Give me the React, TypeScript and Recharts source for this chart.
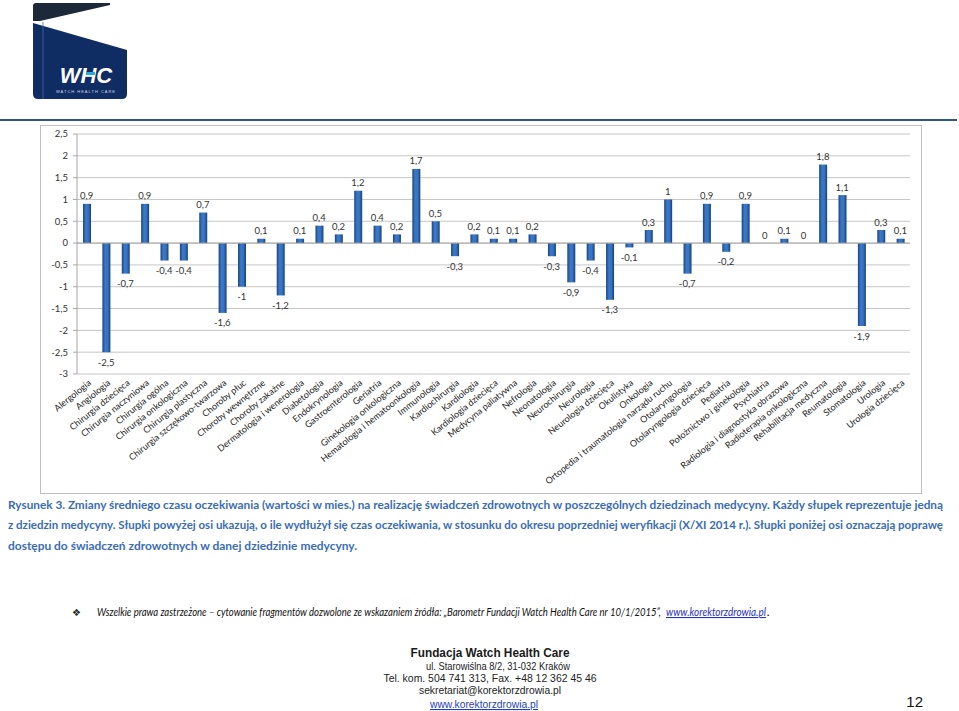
import React, { useLayoutEffect, useRef, useState } from "react";
import { ComposedChart, Bar, Line, XAxis, YAxis, CartesianGrid, ReferenceLine, LabelList } from "recharts";

const categories = [
  "Alergologia", "Angiologia", "Chirurgia dziecięca", "Chirurgia naczyniowa", "Chirurgia ogólna",
  "Chirurgia onkologiczna", "Chirurgia plastyczna", "Chirurgia szczękowo-twarzowa", "Choroby płuc",
  "Choroby wewnętrzne", "Choroby zakaźne", "Dermatologia i wenerologia", "Diabetologia", "Endokrynologia",
  "Gastroenterologia", "Geriatria", "Ginekologia onkologiczna", "Hematologia i hematoonkologia",
  "Immunologia", "Kardiochirurgia", "Kardiologia", "Kardiologia dziecięca", "Medycyna paliatywna",
  "Nefrologia", "Neonatologia", "Neurochirurgia", "Neurologia", "Neurologia dziecięca", "Okulistyka",
  "Onkologia", "Ortopedia i traumatologia narządu ruchu", "Otolaryngologia", "Otolaryngologia dziecięca",
  "Pediatria", "Położnictwo i ginekologia", "Psychiatria", "Radiologia i diagnostyka obrazowa",
  "Radioterapia onkologiczna", "Rehabilitacja medyczna", "Reumatologia", "Stomatologia", "Urologia",
  "Urologia dziecięca",
];

const changes = [
  0.9, -2.5, -0.7, 0.9, -0.4, -0.4, 0.7, -1.6, -1, 0.1, -1.2, 0.1, 0.4, 0.2, 1.2, 0.4, 0.2, 1.7, 0.5,
  -0.3, 0.2, 0.1, 0.1, 0.2, -0.3, -0.9, -0.4, -1.3, -0.1, 0.3, 1, -0.7, 0.9, -0.2, 0.9, 0, 0.1, 0, 1.8,
  1.1, -1.9, 0.3, 0.1,
];

const yTicks = [2.5, 2, 1.5, 1, 0.5, 0, -0.5, -1, -1.5, -2, -2.5, -3];

const captionLines = [
  "Rysunek 3. Zmiany średniego czasu oczekiwania (wartości w mies.) na realizację świadczeń zdrowotnych w poszczególnych dziedzinach medycyny. Każdy słupek reprezentuje jedną",
  "z dziedzin medycyny. Słupki powyżej osi ukazują, o ile wydłużył się czas oczekiwania, w stosunku do okresu poprzedniej weryfikacji (X/XI 2014 r.). Słupki poniżej osi oznaczają poprawę",
  "dostępu do świadczeń zdrowotnych w danej dziedzinie medycyny.",
];

const footnoteText =
  "Wszelkie prawa zastrzeżone – cytowanie fragmentów dozwolone ze wskazaniem źródła: „Barometr Fundacji Watch Health Care nr 10/1/2015”,";
const footnoteLink = "www.korektorzdrowia.pl";

const footerLines = [
  "ul. Starowiślna 8/2, 31-032 Kraków",
  "Tel. kom. 504 741 313, Fax. +48 12 362 45 46",
  "sekretariat@korektorzdrowia.pl",
];

const data = categories.map((name, i) => ({ name, value: changes[i] }));

const fmt = (v: number) => String(v).replace(".", ",");

const FitText = ({ x, y, width, children, ...rest }: any) => {
  const ref = useRef<SVGTextElement>(null);
  const [scale, setScale] = useState(1);
  useLayoutEffect(() => {
    if (ref.current) {
      const w = ref.current.getComputedTextLength();
      if (w > 0) setScale(width / w);
    }
  }, [width]);
  return (
    <text ref={ref} x={0} y={0} transform={`translate(${x},${y}) scale(${scale},1)`} {...rest}>
      {children}
    </text>
  );
};

const XTick = (props: any) => {
  const { x, y, payload } = props;
  const tx = x + 5;
  const ty = y + 10;
  return (
    <text
      x={tx}
      y={ty}
      transform={`rotate(-39, ${tx}, ${ty})`}
      textAnchor="end"
      fontSize={9}
      fontFamily="Lato, 'Open Sans', sans-serif"
      fill="#222"
    >
      {payload.value}
    </text>
  );
};

const ValueLabel = (props: any) => {
  const { x, y, value } = props;
  if (value === undefined || value === null) return null;
  const ly = value >= 0 ? y - 4.5 : y + 13.5;
  return (
    <text x={x} y={ly} textAnchor="middle" fontSize={9.5} fontFamily="Lato, 'Open Sans', sans-serif" fill="#333">
      {fmt(value)}
    </text>
  );
};

const Logo = () => (
  <g>
    <path d="M36,3 L110,3 L110,5 L40,21 L33,21 L33,6 Q33,3 36,3 Z" fill="#1d2838" />
    <path d="M33,23 L127,50 L127,94 Q127,99 122,99 L38,99 Q33,99 33,94 Z" fill="#0f2d63" />
    <line x1="43" y1="22" x2="43" y2="99" stroke="#3f6aa8" strokeWidth="0.8" />
    <text x="86" y="83" textAnchor="middle" fontSize="22" fontWeight="bold" fontStyle="italic" fontFamily="Liberation Sans, Arial, sans-serif" fill="#ffffff">
      WHC
    </text>
    <rect x="86" y="72" width="9" height="3" fill="#29a9e0" />
    <text x="86" y="93" textAnchor="middle" fontSize="4" fontFamily="Liberation Sans, Arial, sans-serif" fill="#cfd8e8" letterSpacing="1">
      WATCH HEALTH CARE
    </text>
  </g>
);

export default function App() {
  return (
    <div style={{ position: "absolute", left: 0, top: 0, width: 959, height: 711, background: "#fff", overflow: "hidden" }}>
      <svg width={959} height={711} style={{ position: "absolute", left: 0, top: 0 }}>
        <Logo />
        <line x1={0} y1={120} x2={957} y2={120} stroke="#2f5496" strokeWidth={2} />
        <rect x={40.5} y={125.5} width={881} height={368} fill="none" stroke="#bfbfbf" strokeWidth={1} />
        {captionLines.map((t, i) => (
          <text
            key={i}
            x={8}
            y={[509, 529, 550][i]}
            fontSize={11.5}
            fontWeight="bold"
            fontFamily="Lato, 'Open Sans', sans-serif"
            fill="#3a6db5"
            textLength={i < 2 ? 935 : 349}
            lengthAdjust="spacingAndGlyphs"
          >
            {t}
          </text>
        ))}
        <text x={72} y={616} fontSize={10} fill="#222" fontFamily="'DejaVu Sans', sans-serif">❖</text>
        <FitText x={97} y={616} width={565} fontSize={10.5} fontStyle="italic" fontFamily="Lato, 'Open Sans', sans-serif" fill="#111">
          {footnoteText}
        </FitText>
        <FitText x={666} y={616} width={100} fontSize={10.5} fontStyle="italic" fontFamily="Lato, 'Open Sans', sans-serif" fill="#1f2fbf" textDecoration="underline">
          {footnoteLink}
        </FitText>
        <FitText x={767} y={616} width={3} fontSize={10.5} fontStyle="italic" fontFamily="Lato, 'Open Sans', sans-serif" fill="#111">
          .
        </FitText>
        <text x={490} y={657} textAnchor="middle" fontSize={12.5} fontWeight="bold" fontFamily="'Liberation Sans', Arial, sans-serif" fill="#1a1a1a" textLength={159} lengthAdjust="spacingAndGlyphs">
          Fundacja Watch Health Care
        </text>
        {footerLines.map((t, i) => (
          <text
            key={i}
            x={[498, 490, 490][i]}
            y={[670, 682, 694][i]}
            textAnchor="middle"
            fontSize={11}
            fontFamily="'Liberation Sans', Arial, sans-serif"
            fill="#222"
            textLength={[144, 213, 142][i]}
            lengthAdjust="spacingAndGlyphs"
          >
            {t}
          </text>
        ))}
        <text x={484} y={708} textAnchor="middle" fontSize={11} fontFamily="'Liberation Sans', Arial, sans-serif" fill="#1f3fbf" textDecoration="underline" textLength={108} lengthAdjust="spacingAndGlyphs">
          {footnoteLink}
        </text>
        <text x={923} y={707} textAnchor="end" fontSize={15} fontFamily="'Liberation Sans', Arial, sans-serif" fill="#111">12</text>
      </svg>
      <div style={{ position: "absolute", left: 40, top: 125 }}>
        <ComposedChart width={882} height={369} data={data} margin={{ top: 9, right: 12, left: 0, bottom: 0 }}>
          <defs>
            <linearGradient id="barGrad" x1="0" y1="0" x2="1" y2="0">
              <stop offset="0%" stopColor="#1a4482" />
              <stop offset="35%" stopColor="#3b78c6" />
              <stop offset="65%" stopColor="#3674c2" />
              <stop offset="100%" stopColor="#173f7c" />
            </linearGradient>
          </defs>
          <CartesianGrid vertical={false} stroke="#c6c6c6" />
          <XAxis
            dataKey="name"
            interval={0}
            height={120}
            tickSize={0}
            tickMargin={0}
            axisLine={false}
            tick={<XTick />}
          />
          <YAxis
            width={37}
            domain={[-3, 2.5]}
            ticks={yTicks}
            interval={0}
            tickFormatter={fmt}
            tickSize={4}
            tickMargin={5}
            axisLine={{ stroke: "#a6a6a6" }}
            tickLine={{ stroke: "#a6a6a6" }}
            tick={{ fontSize: 9.5, fill: "#333", fontFamily: "Lato, 'Open Sans', sans-serif" }}
          />
          <ReferenceLine y={0} stroke="#a6a6a6" />
          <Bar dataKey="value" barSize={8} fill="url(#barGrad)" isAnimationActive={false} />
          <Line dataKey="value" stroke="none" dot={false} activeDot={false} isAnimationActive={false}>
            <LabelList dataKey="value" content={<ValueLabel />} />
          </Line>
        </ComposedChart>
      </div>
    </div>
  );
}
